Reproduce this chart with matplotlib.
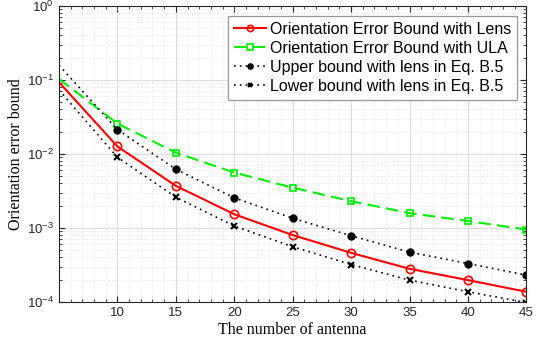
import matplotlib
matplotlib.use("Agg")
import matplotlib.pyplot as plt
from matplotlib.ticker import LogLocator, NullFormatter, FixedLocator

antennas = [5, 10, 15, 20, 25, 30, 35, 40, 45]
lens = [0.093, 0.0126, 0.0037, 0.00153, 0.0008, 0.00046, 0.00028, 0.000197, 0.000137]
ula = [0.103, 0.0257, 0.0104, 0.0056, 0.0035, 0.0023, 0.00158, 0.00124, 0.00095]
upper = [0.158, 0.0213, 0.0062, 0.00255, 0.00135, 0.000785, 0.00047, 0.00033, 0.00023]
lower = [0.073, 0.009, 0.0026, 0.00106, 0.000557, 0.00032, 0.000197, 0.000137, 0.000098]
labels = ["Orientation Error Bound with Lens", "Orientation Error Bound with ULA",
          "Upper bound with lens in Eq. B.5", "Lower bound with lens in Eq. B.5"]
xticks = [10, 15, 20, 25, 30, 35, 40, 45]

fig = plt.figure(figsize=(5.39, 3.49), dpi=100)
ax = fig.add_axes([0.1095, 0.135, 0.867, 0.848])
me = slice(1, None)
ax.plot(antennas, lens, color="#ff0000", lw=1.5, marker="o", ms=6, mfc="none", mew=1.2, markevery=me, label=labels[0])
ax.plot(antennas, ula, color="#00ee00", lw=1.5, ls=(0, (6, 3)), marker="s", ms=5, mfc="none", mew=1.2, markevery=me, label=labels[1])
ax.plot(antennas, upper, color="black", lw=1.2, ls=(0, (1, 2.5)), marker="o", ms=5, mfc="black", markevery=me, label=labels[2])
ax.plot(antennas, lower, color="black", lw=1.2, ls=(0, (1, 2.5)), marker="x", ms=4.5, mew=1.5, markevery=me, label=labels[3])

ax.set_yscale("log")
ax.set_xlim(5, 45)
ax.set_ylim(1e-4, 1)
ax.xaxis.set_major_locator(FixedLocator(xticks))
ax.yaxis.set_major_locator(LogLocator(base=10, numticks=10))
ax.yaxis.set_minor_locator(LogLocator(base=10, subs=range(2, 10), numticks=50))
ax.yaxis.set_minor_formatter(NullFormatter())
ax.set_xticks([6, 7, 8, 9, 11, 12, 13, 14, 16, 17, 18, 19, 21, 22, 23, 24, 26, 27, 28, 29,
               31, 32, 33, 34, 36, 37, 38, 39, 41, 42, 43, 44], minor=True)
ax.tick_params(axis="x", which="minor", length=0)
ax.grid(True, which="major", color="#dddddd", lw=0.8)
ax.grid(True, which="minor", color="#dddddd", lw=0.6, ls=(0, (1, 2)))
ax.set_axisbelow(True)
ax.tick_params(which="both", direction="in", top=True, right=True, labelsize=9.5, colors="#262626")
ax.tick_params(which="major", length=4)
ax.tick_params(which="minor", length=2)
for s in ax.spines.values():
    s.set_color("#262626")
    s.set_linewidth(0.8)
for t in ax.get_xticklabels() + ax.get_yticklabels():
    t.set_fontfamily("Liberation Sans")

ax.set_xlabel("The number of antenna", family="Liberation Serif", fontsize=11.5, labelpad=2)
ax.set_ylabel("Orientation error bound", family="Liberation Serif", fontsize=11.5, labelpad=2)

leg = ax.legend(loc="upper left", bbox_to_anchor=(228 / 539, 1 - 16 / 349), bbox_transform=fig.transFigure,
                prop={"family": "Liberation Sans", "size": 11.5},
                fancybox=False, edgecolor="#999999", framealpha=1, handlelength=2.0, borderpad=0.35,
                labelspacing=0.26, handletextpad=0.3, borderaxespad=0.0, markerscale=0.75)
leg.get_frame().set_linewidth(0.9)

fig.savefig("out.png", dpi=100)
